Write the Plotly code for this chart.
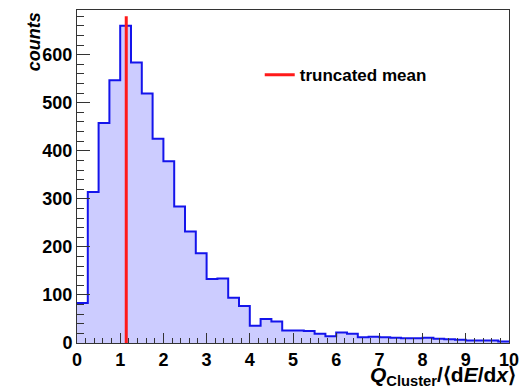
import plotly.graph_objects as go

# histogram: 40 bins of width 0.25 from 0 to 10
bin_edges = [i * 0.25 for i in range(41)]
counts = [83, 314, 458, 547, 660, 584, 519, 425, 378, 284,
          232, 187, 133, 134, 94, 77, 36, 50, 45, 26,
          26, 25, 19, 14, 22, 19, 12, 13, 12, 11,
          10, 10, 11, 9, 8, 7, 5, 5, 5, 3]
trunc_mean = 1.14
trunc_mean_top = 680
legend_label = "truncated mean"

x_ticks = list(range(0, 11))
y_ticks = list(range(0, 701, 100))

step_y = counts + [counts[-1]]

fig = go.Figure()
fig.add_trace(go.Scatter(
    x=bin_edges, y=step_y, mode="lines", line_shape="hv",
    line=dict(color="rgb(20,20,235)", width=2),
    fill="tozeroy", fillcolor="#ccccff", showlegend=False, hoverinfo="skip"))
fig.add_trace(go.Scatter(
    x=[trunc_mean, trunc_mean], y=[0, trunc_mean_top], mode="lines",
    line=dict(color="#ff1a1a", width=3), name=legend_label, showlegend=True))

axis_font = dict(family="Liberation Sans", size=18, color="black", weight="bold")
fig.update_xaxes(range=[0, 10], tickvals=x_ticks, ticktext=[str(t) for t in x_ticks],
                 ticks="inside", ticklen=10, tickcolor="#333", tickwidth=1,
                 minor=dict(dtick=0.2, ticks="inside", ticklen=5, tickcolor="#333", tickwidth=1),
                 showline=True, linecolor="#333", linewidth=1, mirror=True,
                 showgrid=False, zeroline=False, tickfont=axis_font)
fig.update_yaxes(range=[0, 693], tickvals=y_ticks, ticktext=[str(t) for t in y_ticks],
                 ticks="inside", ticklen=13, tickcolor="#333", tickwidth=1,
                 minor=dict(dtick=20, ticks="inside", ticklen=7, tickcolor="#333", tickwidth=1),
                 showline=True, linecolor="#333", linewidth=1, mirror=True,
                 showgrid=False, zeroline=False, tickfont=axis_font)

fig.add_annotation(xref="paper", yref="paper", x=-0.10, y=1.0, xanchor="center", yanchor="top",
                   text="<b><i>counts</i></b>", textangle=-90, showarrow=False,
                   font=dict(family="Liberation Sans", size=18, color="black"))
fig.add_annotation(xref="paper", yref="paper", x=1.02, y=-0.145, xanchor="right", yanchor="bottom",
                   text="<b><i>Q</i><sub>Cluster</sub>/⟨d<i>E</i>/d<i>x</i>⟩</b>", showarrow=False,
                   font=dict(family="Liberation Sans", size=21, color="black"))

fig.update_layout(
    width=528, height=388,
    margin=dict(l=77, r=11, t=9, b=45),
    paper_bgcolor="white", plot_bgcolor="white",
    legend=dict(x=0.423, y=0.804, xanchor="left", yanchor="middle", bgcolor="rgba(0,0,0,0)",
                itemwidth=30, font=dict(family="Liberation Sans", size=17, color="black", weight="bold")),
)

fig.write_html("out.html")
